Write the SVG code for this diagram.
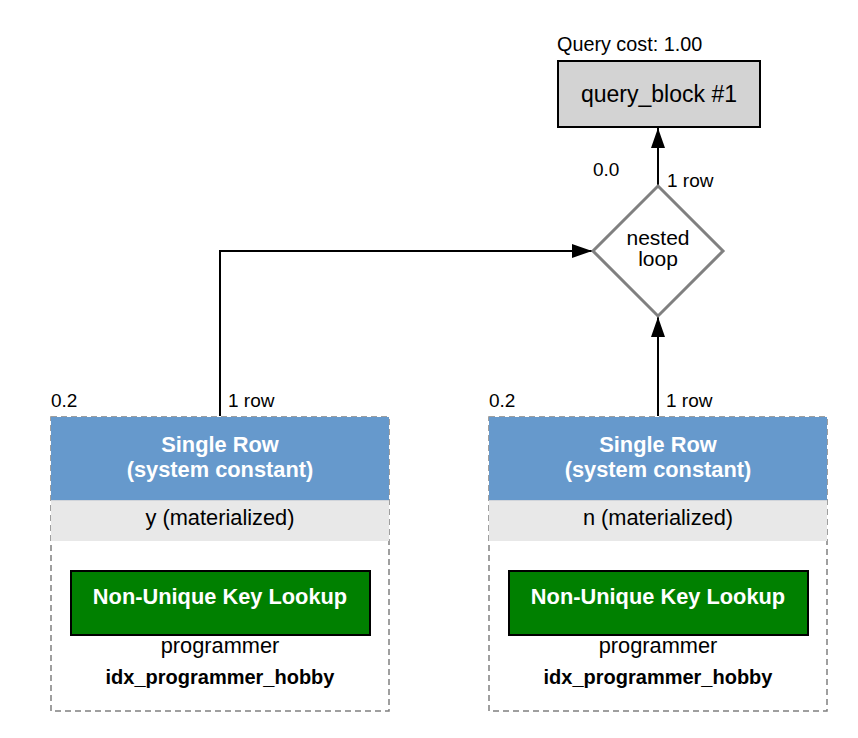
<svg xmlns="http://www.w3.org/2000/svg" width="858" height="738" viewBox="0 0 858 738">
<style>
text{font-family:"Liberation Sans",Arial,sans-serif;fill:#000}
.lbl{font-size:19px}
.hdr{font-size:21.8px;font-weight:bold;fill:#fff;text-anchor:middle}
.mid{text-anchor:middle}
.big{font-size:21.8px}
.idx{font-size:20px;font-weight:bold}
.edge{fill:none;stroke:#000;stroke-width:2}
.frame{fill:#fff;stroke:#808080;stroke-width:1.5;stroke-dasharray:6,4}
</style>
<defs>
<marker id="ah" viewBox="0 0 20 14" refX="20" refY="7" markerWidth="20" markerHeight="14" markerUnits="userSpaceOnUse" orient="auto">
<path d="M0,0 L20,7 L0,14 Z" fill="#000"/>
</marker>
</defs>
<rect width="858" height="738" fill="#fff"/>
<g id="connectors">
<path class="edge" d="M658,186 L658,128" marker-end="url(#ah)"/>
<path class="edge" d="M220,416 L220,251 L592,251" marker-end="url(#ah)"/>
<path class="edge" d="M658,416 L658,317" marker-end="url(#ah)"/>
</g>
<g id="query_block">
<text x="557" y="51" style="font-size:19.8px">Query cost: 1.00</text>
<rect x="558" y="61" width="202" height="66" fill="#d3d3d3" stroke="#000" stroke-width="2"/>
<text x="659" y="102" class="mid" style="font-size:23px">query_block #1</text>
</g>
<g id="nested_loop">
<text x="593" y="176" class="lbl">0.0</text>
<text x="667" y="187" class="lbl">1 row</text>
<polygon points="658,186 723,251 658,316 593,251" fill="#fff" stroke="#808080" stroke-width="3"/>
<text x="658" y="245" class="mid" style="font-size:21px">nested</text>
<text x="658" y="266" class="mid" style="font-size:21px">loop</text>
</g>
<g id="table_y">
<text x="51" y="407" class="lbl">0.2</text>
<text x="228" y="407" class="lbl">1 row</text>
<rect x="51" y="417" width="338" height="294" class="frame"/>
<rect x="51" y="417" width="338" height="83" fill="#6699cc"/>
<rect x="51" y="500" width="338" height="41" fill="#e8e8e8"/>
<line x1="51" y1="500.5" x2="389" y2="500.5" stroke="#d0d4da" stroke-width="1"/>
<text x="220" y="452" class="hdr">Single Row</text>
<text x="220" y="477" class="hdr">(system constant)</text>
<text x="220" y="525" class="mid big">y (materialized)</text>
<rect x="71" y="571" width="299" height="64" fill="#008000" stroke="#000" stroke-width="2"/>
<text x="220" y="604" class="hdr">Non-Unique Key Lookup</text>
<text x="220" y="653" class="mid big">programmer</text>
<text x="220" y="684" class="mid idx">idx_programmer_hobby</text>
</g>
<g id="table_n">
<text x="489" y="407" class="lbl">0.2</text>
<text x="666" y="407" class="lbl">1 row</text>
<rect x="489" y="417" width="338" height="294" class="frame"/>
<rect x="489" y="417" width="338" height="83" fill="#6699cc"/>
<rect x="489" y="500" width="338" height="41" fill="#e8e8e8"/>
<line x1="489" y1="500.5" x2="827" y2="500.5" stroke="#d0d4da" stroke-width="1"/>
<text x="658" y="452" class="hdr">Single Row</text>
<text x="658" y="477" class="hdr">(system constant)</text>
<text x="658" y="525" class="mid big">n (materialized)</text>
<rect x="509" y="571" width="299" height="64" fill="#008000" stroke="#000" stroke-width="2"/>
<text x="658" y="604" class="hdr">Non-Unique Key Lookup</text>
<text x="658" y="653" class="mid big">programmer</text>
<text x="658" y="684" class="mid idx">idx_programmer_hobby</text>
</g>
</svg>
